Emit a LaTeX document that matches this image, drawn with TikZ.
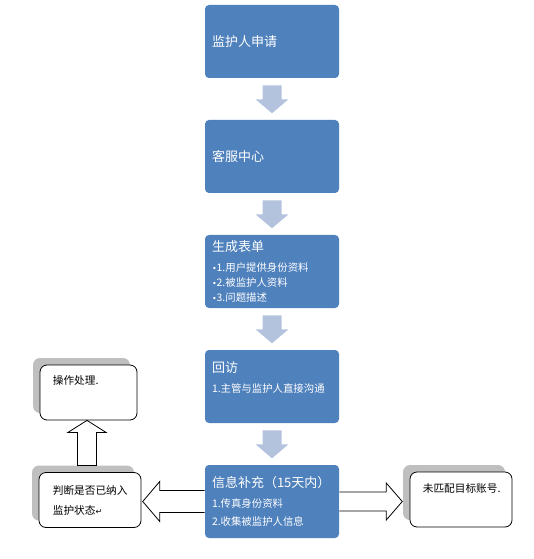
\documentclass[tikz,border=0pt]{standalone}
\usepackage{fontspec}
\usepackage{tikz}
\usetikzlibrary{positioning, calc, shadows}
\newfontfamily\cjk{Noto Sans CJK SC}
\newfontfamily\symfont{DejaVu Sans}
\definecolor{boxblue}{HTML}{4F81BD}
\definecolor{arrowblue}{HTML}{B3C3DE}
\definecolor{shadowgray}{HTML}{BFBFBF}
\newcommand{\boxtitle}[1]{{\fontsize{9.75}{13.5}\selectfont #1}}
\newcommand{\dotmark}{{\symfont\fontsize{6}{6}\selectfont •}}

\tikzset{
  stepbox/.style={rectangle, rounded corners=3pt, fill=boxblue, text=white,
    minimum height=54.75pt, text width=90pt, inner xsep=5.25pt, inner ysep=0pt,
    align=left, font=\cjk\fontsize{7.8}{13.5}\selectfont},
  notebox/.style={rectangle, rounded corners=5.25pt, draw=black, line width=0.6pt,
    fill=white, minimum width=76.5pt, minimum height=41.25pt,
    drop shadow={shadow xshift=-5.25pt, shadow yshift=5.25pt, opacity=1, fill=shadowgray}},
  notetext/.style={inner sep=0pt, align=left, font=\cjk\fontsize{8}{15}\selectfont},
  flowarrow/.style={fill=arrowblue},
  hollowarrow/.style={draw=black, line width=0.6pt, fill=white, line join=miter}
}

\begin{document}
\begin{tikzpicture}[x=0.75pt, y=-0.75pt]
  \useasboundingbox (0,0) rectangle (533,559);

  % main flow
  \node[stepbox] (apply) at (272,41.5) {\boxtitle{监护人申请}};
  \node[stepbox] (service) at (272,156.5) {\boxtitle{客服中心}};
  \node[stepbox, font=\cjk\fontsize{7.8}{11.25}\selectfont] (form) at (272,271.5)
    {\boxtitle{生成表单}\\[3.75pt]\dotmark1.用户提供身份资料\\\dotmark2.被监护人资料\\\dotmark3.问题描述};
  \node[stepbox] (visit) at (272,386.5)
    {\boxtitle{回访}\\[1.5pt]1.主管与监护人直接沟通\\ \mbox{}};
  \node[stepbox] (supply) at (272,501.5)
    {\boxtitle{信息补充（15天内）}\\[1.5pt]1.传真身份资料\\2.收集被监护人信息};

  % down arrows
  \foreach \a/\b in {apply/service, service/form, form/visit, visit/supply}
    \fill[flowarrow] ($(\a.south)+(-9.5,7)$) -- ++(19,0) -- ++(0,14) -- ++(7,0)
      -- ($(\a.south)+(0,35)$) -- ++(-16.5,-14) -- ++(7,0) -- cycle;

  % side boxes
  \node[notebox, minimum width=72.75pt] (handle) at (88.5,392.5) {};
  \node[notebox] (judge) at (90,500) {};
  \node[notebox] (nomatch) at (461,499.5) {};
  \node[notetext, anchor=west] (handleText) at ($(handle.north west)+(13,16)$) {操作处理.};
  \node[notetext, anchor=west] (judgeText) at ($(judge.west)+(14,0)$)
    {判断是否已纳入\\监护状态{\symfont\fontsize{6}{6}\selectfont ↵}};
  \node[notetext, anchor=west] (nomatchText) at ($(nomatch.north west)+(13,17)$) {未匹配目标账号.};

  % hollow arrows
  \draw[hollowarrow] ($(handle.south)+(-1.5,0)$) -- ++(19,12) -- ++(-9.5,0) -- ++(0,33)
    -- ++(-19,0) -- ++(0,-33) -- ++(-9.5,0) -- cycle;
  \draw[hollowarrow] ($(supply.west)+(0,-11)$) -- ++(-45,0) -- ++(0,-9) -- ++(-17,20)
    -- ++(17,20) -- ++(0,-9) -- ++(45,0);
  \draw[hollowarrow] ($(supply.east)+(0,-9.5)$) -- ++(47,0) -- ++(0,-9) -- ++(16,18.5)
    -- ++(-16,18.5) -- ++(0,-9) -- ++(-47,0);
\end{tikzpicture}
\end{document}
